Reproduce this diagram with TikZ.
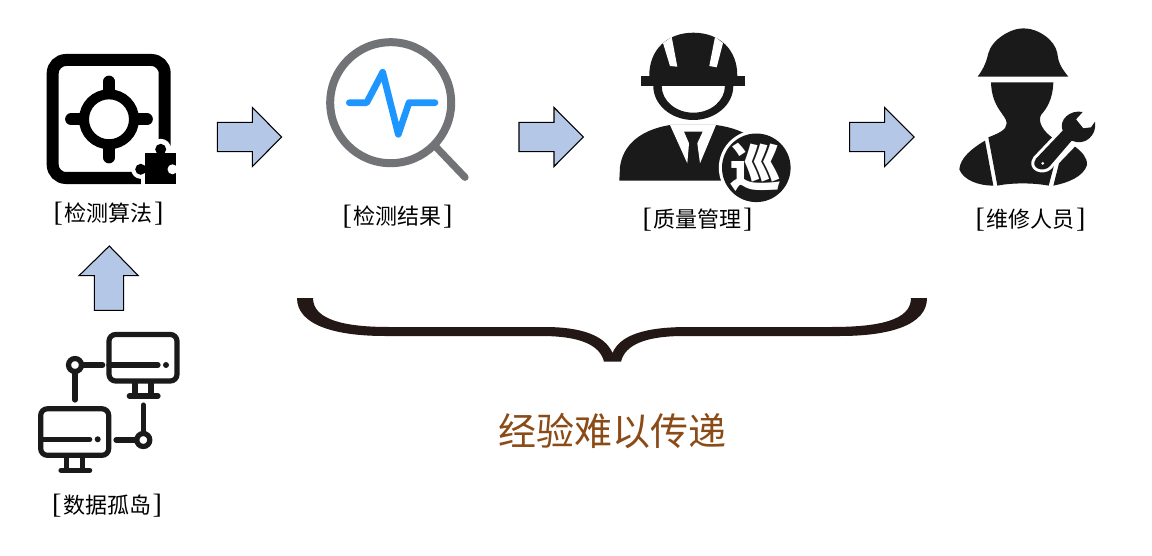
\documentclass[tikz,border=0pt]{standalone}
\usepackage{fontspec}
\setmainfont{Liberation Serif}
\newfontfamily\cjk{Noto Sans CJK SC}
\newfontfamily\brk{Liberation Serif}
\definecolor{arrowfill}{HTML}{B4C7E7}
\definecolor{iconblack}{HTML}{1A1A1A}
\definecolor{lensgray}{HTML}{727376}
\definecolor{pulseblue}{HTML}{1E96FF}
\definecolor{bracecol}{HTML}{231815}
\definecolor{brownt}{HTML}{8A4B16}
\newcommand{\lbltext}[1]{{\brk\fontsize{21pt}{21pt}\selectfont\raisebox{-0.5pt}{[}}\kern1.2pt{\cjk #1}\kern1.2pt{\brk\fontsize{21pt}{21pt}\selectfont\raisebox{-0.5pt}{]}}}
\tikzset{
  lbl/.style={inner sep=0pt,font=\fontsize{16.5pt}{18pt}\selectfont,text=black},
  blockarrow/.style={draw=black,line width=0.8pt,fill=arrowfill,line join=miter},
  thinline/.style={draw=iconblack,line width=3.9pt,line cap=round},
  rightarrow/.pic={
    \path[blockarrow] (0,-14.7) -- (35,-14.7) -- (35,-29.5) -- (64.4,0) -- (35,29.5) -- (35,14.7) -- (0,14.7) -- cycle;
  },
  monitor/.pic={
    \draw[thinline,rounded corners=5pt] (0,0) rectangle (68,46.5);
    \draw[thinline] (0,30.5) -- (49,30.5);
    \fill[iconblack] (57,30.5) circle (3);
    \draw[thinline,line cap=butt] (26,46.5) -- (26,61.5) (42,46.5) -- (42,61.5);
    \draw[thinline] (20.3,61.5) -- (49,61.5);
  }
}
\begin{document}
\begin{tikzpicture}[x=0.75pt,y=-0.75pt]
\useasboundingbox[fill=white] (0,0) rectangle (1152,556);

% --- detection algorithm icon
\draw[black,line width=9pt,rounded corners=10pt] (52.7,60) rectangle (164.7,178);
\draw[black,line width=7.5pt] (109,119.3) circle (25);
\draw[black,line width=8.8pt,line cap=round] (109,81.5) -- (109,90) (109,148.5) -- (109,157.5) (71,119.3) -- (80,119.3) (138,119.3) -- (147,119.3);
\fill[white] (141,146) rectangle (178,190);
\fill[white] (160.7,149.3) circle (10.5);
\fill[white] (140.7,169.3) circle (9.5);
\fill[black] (145,153) rectangle (175.7,184);
\fill[black] (160.7,149.3) circle (5.5);
\fill[black] (140.7,169.3) circle (5.5);
\fill[white] (172.5,169.3) circle (5);
\fill[white] (175.7,150) rectangle (178,190);

% --- data islands icon
\path (109,334.5) pic {monitor};
\path (40.7,408.8) pic {monitor};
\draw[thinline] (75,365) circle (6.5);
\draw[thinline] (83.3,365) -- (102.7,365) (75,373) -- (75,400);
\draw[thinline] (143.3,440) circle (6.5);
\draw[thinline] (116,440) -- (135,440) (143.3,405) -- (143.3,432);

% --- magnifier icon
\draw[lensgray,line width=6pt] (390.7,102.7) circle (60.5);
\draw[lensgray,line width=5.4pt,line cap=round] (436.7,147.7) -- (465,177.3);
\draw[pulseblue,line width=5pt,line cap=round,line join=round] (349.3,102.7) -- (366.7,102.7) -- (382.7,72.3) -- (398.3,134.3) -- (409,102.7) -- (435,102.7);

% --- quality manager icon
\fill[iconblack] (649.3,76) .. controls (649,50) and (667,32.7) .. (693.3,32.7) .. controls (720,32.7) and (737.5,50) .. (737.3,76) -- cycle;
\fill[iconblack] (641.3,75.7) rectangle (745.3,86);
\fill[white] (663,43) -- (671.7,37) -- (677.3,66.7) -- (670,66) -- cycle;
\fill[white] (715,37) -- (723,43) -- (716.7,67.3) -- (709.3,66) -- cycle;
\fill[iconblack,even odd rule] (653.3,86) arc (180:0:40 and 34) -- cycle (661.7,86) arc (180:0:31.6 and 26.7) -- cycle;
\fill[iconblack] (619.3,180.7) -- (620,166.7) .. controls (623,145) and (640,130) .. (670,125) -- (716,125) .. controls (730,127) and (738,130) .. (746,134) -- (770,180.7) -- cycle;
\fill[white] (670,125) -- (716,125) -- (700,163.3) -- (697.3,143.3) -- (702.7,131.7) -- (684,131.7) -- (689,143.3) -- (687.3,163.3) -- cycle;
\fill[white] (756.3,167.8) circle (37.5);
\fill[iconblack] (756.3,167.8) circle (34.3);
\node[inner sep=0pt,text=white,font=\cjk\bfseries\fontsize{38pt}{38pt}\selectfont] (badge) at (756.3,167) {巡};

% --- maintenance worker icon
\begin{scope}[shift={(940,20)},x=0.25pt,y=-0.25pt]
\fill[iconblack] (113,170) .. controls (135,140) and (140,120) .. (145,100) .. controls (155,60) and (210,25) .. (250,25) .. controls (295,25) and (345,60) .. (352,100) .. controls (355,130) and (365,145) .. (385,170) -- cycle;
\fill[iconblack] (153,187) -- (340,187) .. controls (338,240) and (320,265) .. (303,285) .. controls (292,305) and (310,335) .. (340,355) -- (345,425) -- (326,497) .. controls (280,488) and (215,488) .. (172,497) -- (145,352) .. controls (175,340) and (200,330) .. (200,310) .. controls (200,285) and (155,265) .. (153,187) -- cycle;
\fill[iconblack] (135,362) .. controls (95,385) and (60,415) .. (58,448) .. controls (70,480) and (115,497) .. (160,497) -- cycle;
\fill[iconblack] (405,380) .. controls (425,395) and (442,412) .. (441,435) .. controls (430,470) and (385,488) .. (340,497) -- (357,430) -- cycle;
\end{scope}
\begin{scope}[shift={(1020,100)},x=0.25pt,y=-0.25pt]
\path[draw=white,line width=4.5pt,line join=round,preaction={}] (48,176) -- (128,92) .. controls (115,60) and (150,28) .. (188,36) -- (168,58) -- (190,85) -- (213,82) -- (225,65) .. controls (232,105) and (195,140) .. (155,122) -- (88,200) .. controls (70,218) and (28,205) .. (48,176) -- cycle;
\fill[iconblack] (48,176) -- (128,92) .. controls (115,60) and (150,28) .. (188,36) -- (168,58) -- (190,85) -- (213,82) -- (225,65) .. controls (232,105) and (195,140) .. (155,122) -- (88,200) .. controls (70,218) and (28,205) .. (48,176) -- cycle;
\fill[white] (68,190) circle (4.5);
\end{scope}

% --- block arrows
\path (217.3,137) pic {rightarrow};
\path (519,137) pic {rightarrow};
\path (849.7,137) pic {rightarrow};
\path[blockarrow] (109.3,246) -- (138.3,275.7) -- (123.7,275.7) -- (123.7,310.3) -- (94.3,310.3) -- (94.3,275.7) -- (79,275.7) -- cycle;

% --- brace
\fill[bracecol] (297,298) .. controls (297,325) and (335,336) .. (385,336) -- (541,336) .. controls (580,336) and (600,345) .. (604,361.7) -- (621,361.7) .. controls (625,345) and (645,336) .. (684,336) -- (840,336) .. controls (890,336) and (927,325) .. (927,298) -- (911,298) .. controls (911,320) and (880,327) .. (831,327) -- (688,327) .. controls (645,327) and (620,335) .. (612.5,353) .. controls (605,335) and (580,327) .. (545,327) -- (389,327) .. controls (345,327) and (313,320) .. (313,298) -- cycle;

% --- labels
\node[lbl] (algo) at (108.5,214) {\lbltext{检测算法}};
\node[lbl] (result) at (397.5,217) {\lbltext{检测结果}};
\node[lbl] (quality) at (697.5,220) {\lbltext{质量管理}};
\node[lbl] (staff) at (1030.5,220) {\lbltext{维修人员}};
\node[lbl] (island) at (107,506) {\lbltext{数据孤岛}};
\node[inner sep=0pt,text=brownt,font=\cjk\fontsize{28.5pt}{30pt}\selectfont] (exp) at (612,431) {经验难以传递};
\end{tikzpicture}
\end{document}
